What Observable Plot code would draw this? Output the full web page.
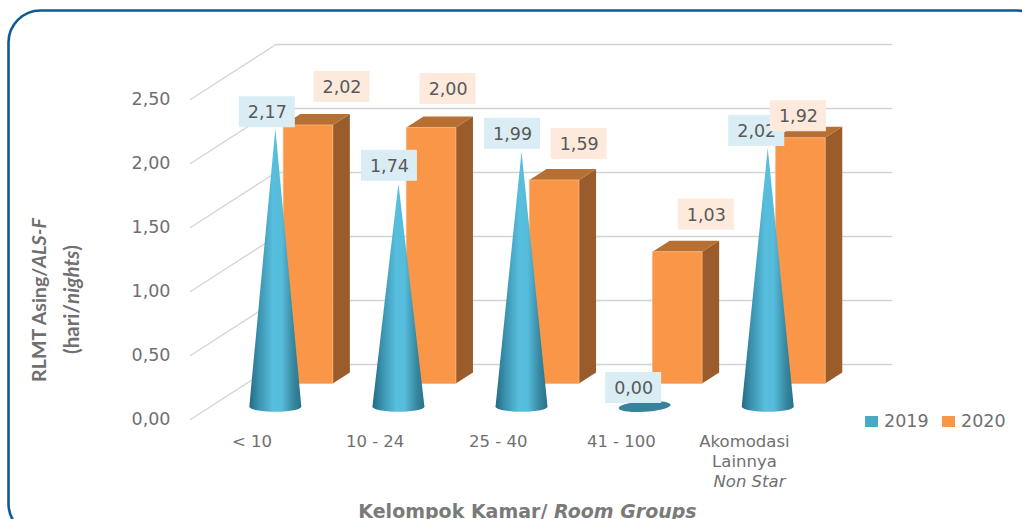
<!DOCTYPE html>
<html><head><meta charset="utf-8">
<script src="https://cdn.jsdelivr.net/npm/d3@7"></script>
<script src="https://cdn.jsdelivr.net/npm/@observablehq/plot@0.6"></script>
<style>html,body{margin:0;padding:0;background:#fff;overflow:hidden}svg{display:block}</style>
</head><body><div id="chart"></div>
<script>
const categories = ["< 10", "10 - 24", "25 - 40", "41 - 100", "Akomodasi\nLainnya"];
const categoryNote = "Non Star";
const values2019 = [2.17, 1.74, 1.99, 0.00, 2.02];
const values2020 = [2.02, 2.00, 1.59, 1.03, 1.92];
const yTicks = [0, 0.5, 1, 1.5, 2, 2.5];
const seriesNames = ["2019", "2020"];
const yTitle1 = ["RLMT Asing/", "ALS-F"];
const yTitle2 = ["(hari/", "nights", ")"];
const xTitle = ["Kelompok Kamar/ ", "Room Groups"];

// label nudges, in pixels, applied on top of each mark's anchor
const nudge2019 = [[-8,-16.5],[-9,-18],[-9,-18],[-11,-18.5],[-11,-17]];
const nudge2020 = [[34,-38],[17,-38.5],[25,-36],[29,-37],[-2,-21.5]];

const W = 1022, H = 519;
const mL = 190, mR = 216.5, mT = 99, mB = 100;
const unitX = (W - mL - mR) / 5, unitY = (H - mT - mB) / 2.5;
const depthX = 85.5 / unitX, depthY = 55 / unitY;
const P = (c, v, d = 0) => ({x: c + d * depthX, y: v + d * depthY});
const fmt = v => v.toFixed(2).replace(".", ",");

// oblique projection of the walls
const grid = yTicks.flatMap((t, i) => [
  {id: "b" + i, ...P(0, t, 1)}, {id: "b" + i, ...P(5, t, 1)}]);
const diag = yTicks.flatMap((t, i) => [
  {id: "d" + i, ...P(0, t, 0)}, {id: "d" + i, ...P(0, t, 1)}]);

// 3D bars
const barW = 49.5 / unitX, d0 = 36 / 55, d1 = 47 / 55;
const poly = (id, pts) => pts.map(p => ({id, ...p}));
const fronts = [], tops = [], sides = [];
values2020.forEach((v, i) => {
  const a = i + 0.5 - barW / 2, b = i + 0.5 + barW / 2;
  fronts.push(...poly("f" + i, [P(a,0,d0), P(b,0,d0), P(b,v,d0), P(a,v,d0), P(a,0,d0)]));
  tops.push(...poly("t" + i, [P(a,v,d0), P(b,v,d0), P(b,v,d1), P(a,v,d1), P(a,v,d0)]));
  sides.push(...poly("s" + i, [P(b,0,d0), P(b,v,d0), P(b,v,d1), P(b,0,d1), P(b,0,d0)]));
});

// cones
const coneD = 13 / 55, coneShift = 0.025, rX = 26 / unitX, rY = 5.3 / unitY;
const cones = [], discs = [];
values2019.forEach((v, i) => {
  const c = P(i + 0.5 + coneShift, 0, coneD);
  if (v > 0) {
    const pts = [{x: c.x, y: c.y + v}];
    for (let a = 0; a <= 180; a += 10) {
      const t = a * Math.PI / 180;
      pts.push({x: c.x + rX * Math.cos(t), y: c.y - rY * Math.sin(t)});
    }
    pts.push(pts[0]);
    cones.push(...poly("c" + i, pts));
  } else {
    const pts = [];
    for (let a = 0; a <= 360; a += 10) {
      const t = a * Math.PI / 180;
      const px = rX * Math.cos(t), py = rY * Math.sin(t);
      pts.push({x: c.x + px, y: c.y - py + px * 0.06});
    }
    discs.push(...poly("z" + i, pts));
  }
});

const boxW = 56 / unitX, boxH = 31 / unitY;
const labels2019 = values2019.map((v, i) => {
  const p = P(i + 0.5 + coneShift, v, coneD);
  return {t: fmt(v), x: p.x + nudge2019[i][0] / unitX, y: p.y - nudge2019[i][1] / unitY};
});
const labels2020 = values2020.map((v, i) => {
  const p = P(i + 0.5, v, d0);
  return {t: fmt(v), x: p.x + nudge2020[i][0] / unitX, y: p.y - nudge2020[i][1] / unitY};
});
const box = (rows, fill) => Plot.rect(rows, {
  x1: d => d.x - boxW / 2, x2: d => d.x + boxW / 2,
  y1: d => d.y - boxH / 2, y2: d => d.y + boxH / 2, fill, inset: 0});
const boxText = rows => Plot.text(rows, {
  x: "x", y: "y", text: "t", fill: "#595959", fontSize: 17.5,
  fontFamily: "DejaVu Sans", dy: 0.5, textAnchor: "middle", lineAnchor: "middle"});

const NS = "http://www.w3.org/2000/svg";
const defs = () => {
  const el = document.createElementNS(NS, "defs");
  el.innerHTML = `<linearGradient id="coneGrad" x1="0" x2="1" y1="0" y2="0">
    <stop offset="0" stop-color="#236a84"/><stop offset=".18" stop-color="#3a91ae"/>
    <stop offset=".45" stop-color="#57bedd"/><stop offset=".62" stop-color="#55bcdb"/>
    <stop offset=".85" stop-color="#37879f"/><stop offset="1" stop-color="#27728c"/></linearGradient>`;
  return el;
};

const plot = Plot.plot({
  width: W, height: H,
  marginLeft: mL, marginRight: mR, marginTop: mT, marginBottom: mB,
  style: {background: "transparent", overflow: "hidden"},
  x: {domain: [0, 5], axis: null},
  y: {domain: [0, 2.5], axis: null},
  marks: [
    defs,
    Plot.line(grid, {x: "x", y: "y", z: "id", stroke: "#d2d2d2", strokeWidth: 1.7}),
    Plot.line(diag, {x: "x", y: "y", z: "id", stroke: "#d5d5d5", strokeWidth: 1.4}),
    Plot.axisY({ticks: yTicks, tickSize: 0, tickPadding: 20, tickFormat: fmt, label: null,
      fontSize: 17.5, fontFamily: "DejaVu Sans", color: "#707070"}),
    Plot.line(sides, {x: "x", y: "y", z: "id", fill: "#9a5c2b", stroke: "none"}),
    Plot.line(tops, {x: "x", y: "y", z: "id", fill: "#b86f33", stroke: "none"}),
    Plot.line(fronts, {x: "x", y: "y", z: "id", fill: "#f99647", stroke: "#f9b27a", strokeWidth: 0.8}),
    Plot.line(cones, {x: "x", y: "y", z: "id", fill: "url(#coneGrad)", stroke: "none"}),
    Plot.line(discs, {x: "x", y: "y", z: "id", fill: "#37839b", stroke: "none"}),
    box(labels2019, "#dbedf4"), boxText(labels2019),
    box(labels2020, "#fdeadd"), boxText(labels2020),
    Plot.text(categories.map((t, i) => ({t, x: i + 0.5, y: 0})), {
      x: "x", y: "y", text: "t", dy: 13, lineAnchor: "top", textAnchor: "middle",
      fontSize: 16.5, lineHeight: 1.22, fill: "#707070", fontFamily: "DejaVu Sans"}),
    Plot.text([{t: categoryNote, x: 4.5, y: 0}], {
      x: "x", y: "y", text: "t", dy: 56, dx: 5, lineAnchor: "top", textAnchor: "middle",
      fontSize: 16.5, fontStyle: "italic", fill: "#707070", fontFamily: "DejaVu Sans"})
  ]
});
document.getElementById("chart").append(plot);

// Frame, titles and legend
const svg = d3.select(plot);
svg.insert("rect", ":first-child").attr("x", 8.5).attr("y", 10.5).attr("width", 1040).attr("height", 525)
  .attr("rx", 32).attr("fill", "none").attr("stroke", "#0f5c94").attr("stroke-width", 2.6);

function multi(x, y, rot, parts, opts) {
  const t = svg.append("text").attr("text-anchor", "middle")
    .attr("transform", `translate(${x},${y}) rotate(${rot})`)
    .attr("font-family", opts.font).attr("font-size", opts.size).attr("font-weight", "bold")
    .attr("fill", opts.fill || "#707070");
  parts.forEach(([s, it]) => t.append("tspan").attr("font-style", it ? "italic" : "normal").text(s));
}
multi(46, 300, -90, [[yTitle1[0]], [yTitle1[1], true]], {font: "Lato", size: 19.6});
multi(79, 299.5, -90, [[yTitle2[0]], [yTitle2[1], true], [yTitle2[2]]], {font: "Lato", size: 20.5});
multi(527.5, 517.5, 0, [[xTitle[0]], [xTitle[1], true]], {font: "DejaVu Sans", size: 19, fill: "#7a7a7a"});

const legend = [[865, 884, "#48aac6", seriesNames[0]], [942, 961, "#f99647", seriesNames[1]]];
legend.forEach(([a, b, c, s]) => {
  svg.append("rect").attr("x", a).attr("y", 416).attr("width", 13).attr("height", 11).attr("fill", c);
  svg.append("text").attr("x", b).attr("y", 427).attr("text-anchor", "start").attr("font-family", "DejaVu Sans")
    .attr("font-size", 17.5).attr("fill", "#707070").text(s);
});
</script></body></html>
